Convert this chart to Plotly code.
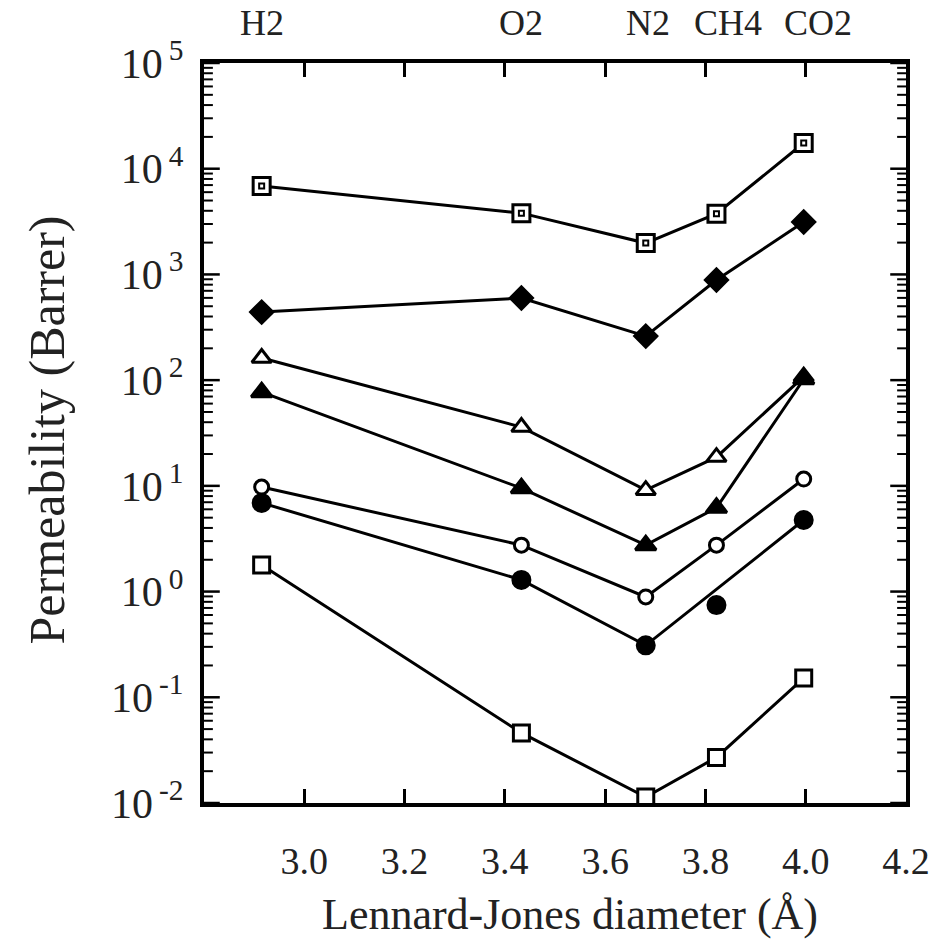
import plotly.graph_objects as go

# Lennard-Jones diameters (Å) for H2, O2, N2, CH4, CO2
gases = ["H2", "O2", "N2", "CH4", "CO2"]
lj_diameter = [2.915, 3.433, 3.681, 3.822, 3.996]

# Permeability (Barrer) per membrane series
perm_sq_dot = [6860, 3800, 1980, 3750, 17500]
perm_diamond = [440, 598, 261, 885, 3130]
perm_tri_open = [162, 36, 9.1, 18.7, 108]
perm_tri_filled = [77, 9.5, 2.75, 6.2, 102]
perm_circ_open = [9.75, 2.75, 0.89, 2.75, 11.6]
perm_circ_filled = [6.9, 1.29, 0.31, 0.745, 4.75]
perm_sq_open = [1.78, 0.046, 0.0114, 0.027, 0.152]

x_ticks = [3.0, 3.2, 3.4, 3.6, 3.8, 4.0, 4.2]
x_ticktext = ["3.0", "3.2", "3.4", "3.6", "3.8", "4.0", "4.2"]
y_exponents = [-2, -1, 0, 1, 2, 3, 4, 5]
minor_digits = [2, 3, 4, 5, 6, 7, 8, 9]
label_shift = [0, 0, 2, 12, 14]

LW = 3
FONT = "Liberation Serif"
PLOT_W = 712  # plot-area width in px, used for tick lengths in paper units
fig = go.Figure()

def add_series(x, y, symbol, fill, size, mode="lines+markers"):
    fig.add_trace(go.Scatter(
        x=x, y=y, mode=mode,
        line=dict(color="black", width=LW),
        marker=dict(symbol=symbol, size=size, color=fill,
                    line=dict(color="black", width=3)),
        showlegend=False, hoverinfo="skip"))

# top series: square with a small inner mark
add_series(lj_diameter, perm_sq_dot, "square", "white", 17)
fig.add_trace(go.Scatter(x=lj_diameter, y=perm_sq_dot, mode="markers",
                         marker=dict(symbol="square-open", size=5, color="black",
                                     line=dict(color="black", width=2)),
                         showlegend=False, hoverinfo="skip"))
add_series(lj_diameter, perm_diamond, "diamond", "black", 17)
add_series(lj_diameter, perm_tri_open, "triangle-up", "white", 17)
add_series(lj_diameter, perm_tri_filled, "triangle-up", "black", 18)
add_series(lj_diameter, perm_circ_open, "circle", "white", 14)
# filled circles: line skips the CH4 point, which is plotted alone
line_idx = [0, 1, 2, 4]
add_series([lj_diameter[i] for i in line_idx],
           [perm_circ_filled[i] for i in line_idx], "circle", "black", 17)
add_series([lj_diameter[3]], [perm_circ_filled[3]], "circle", "black", 17, mode="markers")
add_series(lj_diameter, perm_sq_open, "square", "white", 16)

fig.update_xaxes(
    range=[2.8, 4.2], tickmode="array", tickvals=x_ticks, ticktext=x_ticktext,
    showline=True, linecolor="black", linewidth=3.5, mirror="ticks",
    ticks="inside", ticklen=14, tickwidth=2.5, tickcolor="black",
    showgrid=False, zeroline=False, ticklabelstandoff=22,
    tickfont=dict(family=FONT, size=38, color="#222"))

fig.update_yaxes(
    type="log", range=[-2, 5], tickmode="array",
    tickvals=[10.0 ** e for e in y_exponents],
    ticktext=["10<sup>\u2009%d</sup>\u2009" % e for e in y_exponents],
    showline=True, linecolor="black", linewidth=3.5, mirror=True,
    ticks="", showgrid=False, zeroline=False,
    tickfont=dict(family=FONT, size=42, color="#222"))

# y-axis tick marks (major + minor) on both sides, placed at the tick values
shapes = []
major_vals = [10.0 ** e for e in y_exponents]
minor_vals = [d * 10.0 ** e for e in y_exponents[:-1] for d in minor_digits]
for vals, length, width in ((major_vals, 16, 2.5), (minor_vals, 9, 2)):
    frac = length / PLOT_W
    for v in vals:
        for x0, x1 in ((0, frac), (1 - frac, 1)):
            shapes.append(dict(type="line", xref="paper", yref="y",
                               x0=x0, x1=x1, y0=v, y1=v,
                               line=dict(color="black", width=width)))

annotations = []
for g, xv, sh in zip(gases, lj_diameter, label_shift):
    annotations.append(dict(x=xv, y=1.054, xref="x", yref="paper", text=g,
                            showarrow=False, xshift=sh, yanchor="middle",
                            font=dict(family=FONT, size=36, color="#222")))
annotations.append(dict(x=0.522, y=-0.151, xref="paper", yref="paper",
                        text="Lennard-Jones diameter (Å)", showarrow=False,
                        yanchor="middle",
                        font=dict(family=FONT, size=44, color="#222")))
annotations.append(dict(x=-0.223, y=0.504, xref="paper", yref="paper",
                        text="Permeability (Barrer)", showarrow=False, textangle=-90,
                        xanchor="center", yanchor="middle",
                        font=dict(family=FONT, size=50, color="#222")))

fig.update_layout(
    width=942, height=950,
    margin=dict(l=204, r=26, t=63, b=147),
    paper_bgcolor="white", plot_bgcolor="white",
    shapes=shapes, annotations=annotations)

fig.write_html("out.html")
